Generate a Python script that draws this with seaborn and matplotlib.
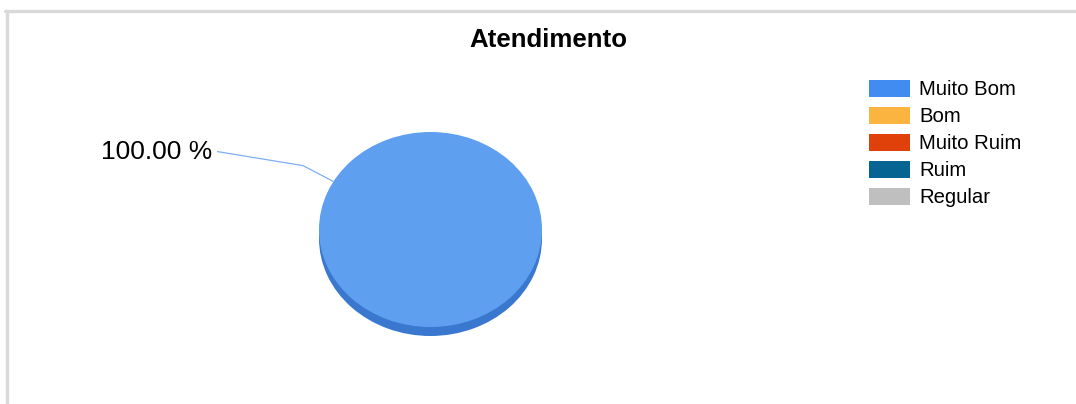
import matplotlib
matplotlib.use("Agg")
import matplotlib.pyplot as plt
import seaborn as sns
from matplotlib.patches import Patch
from matplotlib.lines import Line2D
import numpy as np

title = "Atendimento"
categories = ["Muito Bom", "Bom", "Muito Ruim", "Ruim", "Regular"]
values = [100, 0, 0, 0, 0]
colors = ["#418CF0", "#FCB441", "#E0400A", "#056492", "#BFBFBF"]
top_colors = ["#5F9FF0", "#FCC061", "#E85A2A", "#2A7BA5", "#CACACA"]
side_colors = ["#3A78D0", "#D9952F", "#B53208", "#044F74", "#A0A0A0"]

sns.set_theme(style="white")
plt.rcParams["font.family"] = ["Liberation Sans", "DejaVu Sans"]
plt.rcParams["text.color"] = "black"

W, H = 1076, 404
fig = plt.figure(figsize=(W / 100, H / 100), dpi=100)
fig.patch.set_facecolor("white")

def fx(px):
    return px / W

def fy(py):
    return 1 - py / H

# frame (top and left border lines)
fig.add_artist(Line2D([fx(6.5), fx(6.5)], [fy(404), fy(10.5)], color="#D9D9D9", lw=2.4,
                      transform=fig.transFigure))
fig.add_artist(Line2D([fx(5), 1.0], [fy(10.5), fy(10.5)], color="#D9D9D9", lw=2.4,
                      transform=fig.transFigure))

# title
fig.text(fx(548), fy(47), title, ha="center", va="baseline", fontsize=18.6,
         fontweight="bold", color="black")

# pie axes: ellipse bounding box x 319..542, y 132..336 (incl. depth)
depth = 9 / 97.5
left, right, top, bottom = 319, 542, 132, 336
ax = fig.add_axes([fx(left), fy(bottom), (right - left) / W, (bottom - top) / H])
nz = [(v, tc, sc) for v, tc, sc in zip(values, top_colors, side_colors) if v > 0]
vals = [v for v, _, _ in nz]
ax.pie(vals, colors=[sc for _, _, sc in nz], radius=1, center=(0, -depth),
       startangle=90, counterclock=False, wedgeprops=dict(linewidth=0))
ax.pie(vals, colors=[tc for _, tc, _ in nz], radius=1, center=(0, 0),
       startangle=90, counterclock=False, wedgeprops=dict(linewidth=0))
ax.set_aspect("auto")
ax.set_xlim(-1, 1)
ax.set_ylim(-1 - depth, 1)
ax.axis("off")

# label with leader line
total = sum(values)
pct = values[0] / total * 100
ang = np.deg2rad(150.5)
ex, ey = np.cos(ang), np.sin(ang)
elbow = (-1.143, 0.655)
lend = (-1.915, 0.80)
ax.plot([ex, elbow[0], lend[0]], [ey, elbow[1], lend[1]], color="#7FAFF2", lw=0.9,
        clip_on=False, solid_capstyle="butt")
ax.text(-1.96, 0.723, f"{pct:.2f} %", ha="right", va="baseline", fontsize=19,
        color="black", clip_on=False)

# legend
handles = [Patch(facecolor=c, edgecolor="none") for c in colors]
fig.legend(handles, categories, loc="upper left",
           bbox_to_anchor=(fx(869), fy(79.5)), bbox_transform=fig.transFigure,
           frameon=False, fontsize=14.6, handlelength=2.0, handleheight=0.95,
           handletextpad=0.48, labelspacing=0.36, borderpad=0, borderaxespad=0,
           labelcolor="black")

fig.savefig("out.png", dpi=100, facecolor="white")
